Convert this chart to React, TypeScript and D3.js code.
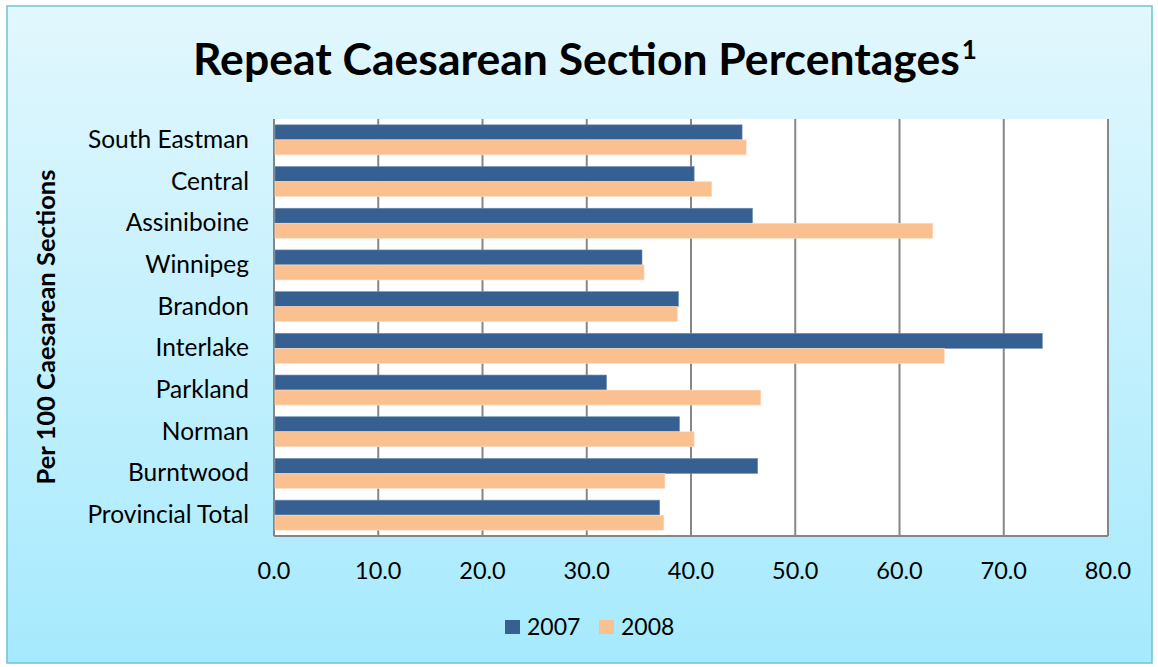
import * as d3 from 'd3'

const categories = [
  'South Eastman',
  'Central',
  'Assiniboine',
  'Winnipeg',
  'Brandon',
  'Interlake',
  'Parkland',
  'Norman',
  'Burntwood',
  'Provincial Total',
]
const series = ['2007', '2008']
const values2007 = [44.9, 40.3, 45.9, 35.3, 38.8, 73.7, 31.9, 38.9, 46.4, 37.0]
const values2008 = [45.3, 42.0, 63.2, 35.5, 38.7, 64.3, 46.7, 40.3, 37.5, 37.4]
const xTicks = [0, 10, 20, 30, 40, 50, 60, 70, 80]

const W = 1158
const H = 667
const FONT = 'Lato, "Open Sans", sans-serif'
const colors = ['#376092', '#fac090']

export default function App() {
  const plot = { left: 274, right: 1108, top: 119, bottom: 536 }

  const x = d3.scaleLinear().domain([0, 80]).range([plot.left, plot.right])
  const y = d3
    .scaleBand<string>()
    .domain(categories)
    .range([plot.top, plot.bottom])
    .paddingInner(0.28)
    .paddingOuter(0.14)
  const ySub = d3.scaleBand<string>().domain(series).range([0, y.bandwidth()])

  const data = [values2007, values2008]

  return (
    <svg width={W} height={H} style={{ position: 'absolute', left: 0, top: 0 }} fontFamily={FONT}>
      <defs>
        <linearGradient id="bg" x1="0" y1="0" x2="0" y2="1">
          <stop offset="0" stopColor="#e2f7fd" />
          <stop offset="1" stopColor="#a6eafd" />
        </linearGradient>
      </defs>
      <rect x={0} y={0} width={W} height={H} fill="#ffffff" />
      <rect x={7} y={6} width={1145} height={657} fill="url(#bg)" stroke="#6fc2d8" strokeWidth={1.5} />

      {/* title */}
      <text x={193} y={75} fontSize={44.5} fontWeight="bold" fill="#000">
        Repeat Caesarean Section Percentages
        <tspan fontSize={26} dx={2} dy={-16}>1</tspan>
      </text>

      {/* plot area */}
      <rect x={plot.left} y={plot.top} width={plot.right - plot.left} height={plot.bottom - plot.top} fill="#ffffff" />

      {xTicks.map(t => (
        <line key={t} x1={x(t)} x2={x(t)} y1={plot.top} y2={plot.bottom} stroke="#868686" strokeWidth={2} />
      ))}
      <line x1={plot.left} x2={plot.right} y1={plot.bottom} y2={plot.bottom} stroke="#868686" strokeWidth={2} />

      {categories.map((c, i) =>
        series.map((s, j) => (
          <rect
            key={c + s}
            x={x(0) + 1}
            y={(y(c) ?? 0) + (ySub(s) ?? 0)}
            width={x(data[j][i]) - x(0) - 1}
            height={ySub.bandwidth()}
            fill={colors[j]}
            stroke={j === 0 ? '#6f8db3' : '#fde0c8'}
            strokeWidth={0.6}
          />
        ))
      )}

      {/* category labels */}
      {categories.map(c => (
        <text
          key={c}
          x={249}
          y={(y(c) ?? 0) + y.bandwidth() / 2 + 8}
          textAnchor="end"
          fontSize={24.5}
          fill="#000"
        >
          {c}
        </text>
      ))}

      {/* x tick labels */}
      {xTicks.map(t => (
        <text key={t} x={x(t)} y={579} textAnchor="middle" fontSize={23.5} fill="#000">
          {d3.format('.1f')(t)}
        </text>
      ))}

      {/* y axis title */}
      <text
        transform={`translate(55, 327) rotate(-90)`}
        textAnchor="middle"
        fontSize={25.5}
        fontWeight="bold"
        fill="#000"
      >
        Per 100 Caesarean Sections
      </text>

      {/* legend */}
      {series.map((s, j) => (
        <g key={s} transform={`translate(${505 + j * 94}, 620)`}>
          <rect x={0} y={0} width={15} height={14} fill={colors[j]} />
          <text x={22} y={15} fontSize={23} fill="#000">
            {s}
          </text>
        </g>
      ))}
    </svg>
  )
}
